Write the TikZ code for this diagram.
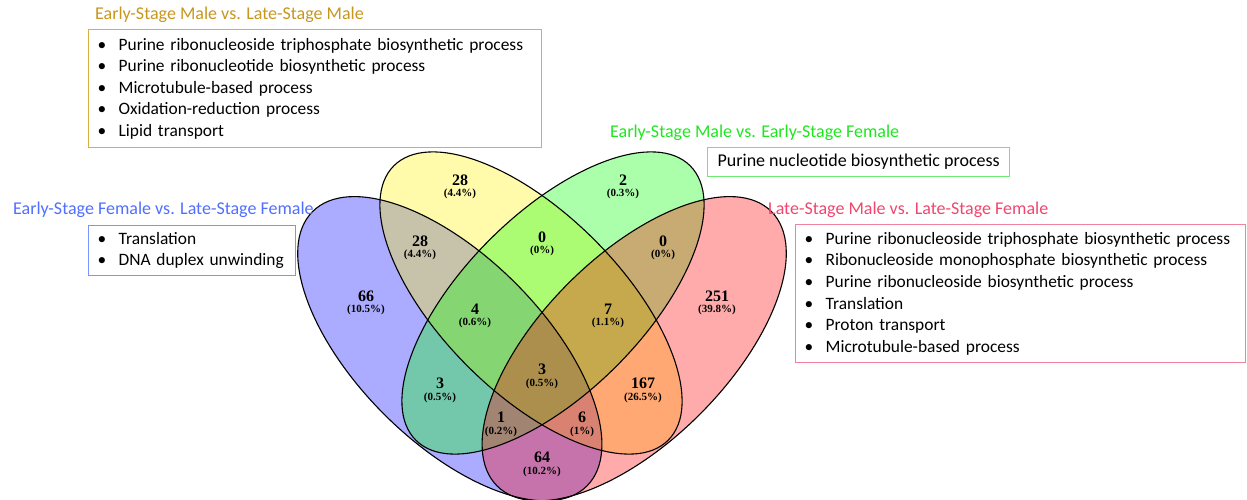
\documentclass[tikz,border=0pt]{standalone}
\usepackage{fontspec}
\setmainfont{Carlito}
\newfontfamily\vennfont{Liberation Serif}
\definecolor{goldT}{RGB}{200,150,30}
\definecolor{goldB}{RGB}{215,175,70}
\definecolor{greenT}{RGB}{30,230,30}
\definecolor{greenB}{RGB}{110,235,110}
\definecolor{blueT}{RGB}{80,110,255}
\definecolor{blueB}{RGB}{120,150,255}
\definecolor{redT}{RGB}{240,70,110}
\definecolor{redB}{RGB}{240,130,160}
\newcommand{\blt}[1]{\mbox{\makebox[21pt][l]{\textbullet}#1}}
\begin{document}
\begin{tikzpicture}[x=1pt,y=1pt,
  every node/.style={inner sep=0pt},
  venn/.style={fill opacity=0.33},
  outline/.style={draw=black, line width=1.1pt},
  num/.style={font=\vennfont\bfseries\fontsize{16}{16}\selectfont},
  pct/.style={font=\vennfont\bfseries\fontsize{11}{11}\selectfont},
  ttl/.style={font=\fontsize{18}{18}\selectfont, anchor=west},
  lbox/.style={draw, line width=1.3pt, anchor=north west, align=left,
    font=\fontsize{17.4}{21.6}\selectfont, inner xsep=9pt, inner ysep=0pt},
]
\useasboundingbox (0,0) rectangle (1247,-500);
\begin{scope}
\clip (0,0) rectangle (1247,-500);
\fill[blue, venn, rotate around={-45:(449.8,-348.7)}] (449.8,-348.7) ellipse [x radius=194, y radius=92.8];
\fill[yellow, venn, rotate around={-45:(531,-303)}] (531,-303) ellipse [x radius=194, y radius=89.5];
\fill[green, venn, rotate around={45:(553,-303)}] (553,-303) ellipse [x radius=194, y radius=89.5];
\fill[red, venn, rotate around={45:(634.2,-348.7)}] (634.2,-348.7) ellipse [x radius=194, y radius=92.8];
\draw[outline, rotate around={-45:(449.8,-348.7)}] (449.8,-348.7) ellipse [x radius=194, y radius=92.8];
\draw[outline, rotate around={-45:(531,-303)}] (531,-303) ellipse [x radius=194, y radius=89.5];
\draw[outline, rotate around={45:(553,-303)}] (553,-303) ellipse [x radius=194, y radius=89.5];
\draw[outline, rotate around={45:(634.2,-348.7)}] (634.2,-348.7) ellipse [x radius=194, y radius=92.8];
\end{scope}

% region labels
\node[num] (nY) at (460,-180.5) {28};   \node[pct] (pY) at (460,-194) {(4.4\%)};
\node[num] (nG) at (623,-180.5) {2};    \node[pct] (pG) at (623,-194) {(0.3\%)};
\node[num] (nBY) at (420,-241.5) {28};  \node[pct] (pBY) at (420,-255) {(4.4\%)};
\node[num] (nYG) at (542,-237.5) {0};   \node[pct] (pYG) at (542,-251) {(0\%)};
\node[num] (nGR) at (663,-241.5) {0};   \node[pct] (pGR) at (663,-255) {(0\%)};
\node[num] (nB) at (366,-296) {66};     \node[pct] (pB) at (366,-309.5) {(10.5\%)};
\node[num] (nR) at (717,-296) {251};    \node[pct] (pR) at (717,-309.5) {(39.8\%)};
\node[num] (nBYG) at (475,-309.5) {4};  \node[pct] (pBYG) at (475,-323) {(0.6\%)};
\node[num] (nYGR) at (608,-309.5) {7};  \node[pct] (pYGR) at (608,-323) {(1.1\%)};
\node[num] (nAll) at (542,-369.5) {3};  \node[pct] (pAll) at (542,-383.5) {(0.5\%)};
\node[num] (nBG) at (440,-383.5) {3};   \node[pct] (pBG) at (440,-397.5) {(0.5\%)};
\node[num] (nYR) at (643,-383.5) {167}; \node[pct] (pYR) at (643,-397.5) {(26.5\%)};
\node[num] (nBGR) at (501,-417.5) {1};  \node[pct] (pBGR) at (501,-432) {(0.2\%)};
\node[num] (nBYR) at (582,-417.5) {6};  \node[pct] (pBYR) at (582,-432) {(1\%)};
\node[num] (nBR) at (542,-457.5) {64};  \node[pct] (pBR) at (542,-471.5) {(10.2\%)};

% titles
\node[ttl, text=goldT] (tEM) at (95,-15) {Early-Stage Male vs. Late-Stage Male};
\node[ttl, text=greenT] (tEE) at (610,-132.5) {Early-Stage Male vs. Early-Stage Female};
\node[ttl, text=blueT] (tEF) at (13,-210) {Early-Stage Female vs. Late-Stage Female};
\node[ttl, text=redT] (tLL) at (768,-210) {Late-Stage Male vs. Late-Stage Female};

% boxes
\node[lbox, draw=goldB, text width=435pt, minimum height=118pt] (bEM) at (88,-29)
  {\blt{Purine ribonucleoside triphosphate biosynthetic process}\\
   \blt{Purine ribonucleotide biosynthetic process}\\
   \blt{Microtubule-based process}\\
   \blt{Oxidation-reduction process}\\
   \blt{Lipid transport}};
\node[draw=greenB, line width=1.3pt, anchor=north west, minimum width=302pt, minimum height=29pt,
  font=\fontsize{18}{21.6}\selectfont] (bEE) at (707,-147) {Purine nucleotide biosynthetic process};
\node[lbox, draw=blueB, text width=189pt, minimum height=50pt] (bEF) at (88,-225)
  {\blt{Translation}\\
   \blt{DNA duplex unwinding}};
\node[lbox, draw=redB, text width=432pt, minimum height=138pt] (bLL) at (795,-224)
  {\blt{Purine ribonucleoside triphosphate biosynthetic process}\\
   \blt{Ribonucleoside monophosphate biosynthetic process}\\
   \blt{Purine ribonucleoside biosynthetic process}\\
   \blt{Translation}\\
   \blt{Proton transport}\\
   \blt{Microtubule-based process}};
\end{tikzpicture}
\end{document}
